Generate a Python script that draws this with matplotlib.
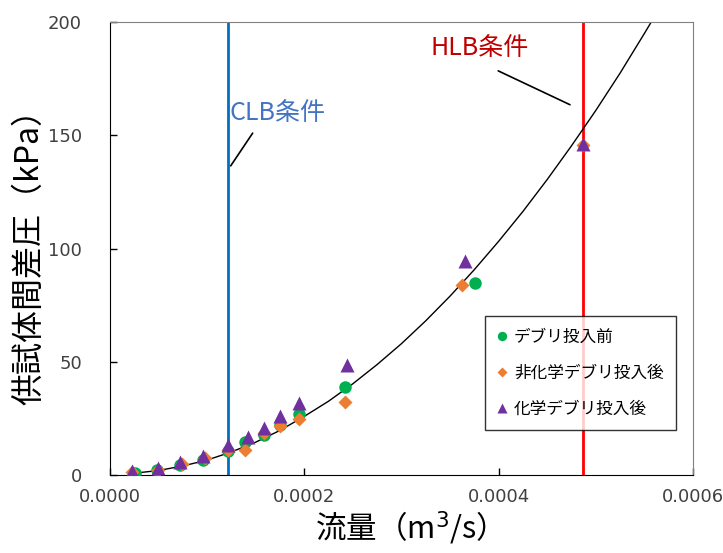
import matplotlib.pyplot as plt

plt.rcParams['font.family'] = ['Noto Sans CJK JP', 'DejaVu Sans']

# measured points
before_x = [0.0000258, 0.0000485, 0.0000722, 0.0000959, 0.0001216, 0.0001392,
            0.0001588, 0.0001753, 0.0001948, 0.0002423, 0.0003753]
before_y = [1.0, 2.2, 4.4, 6.6, 10.6, 14.6, 17.7, 22.0, 26.8, 38.8, 84.8]

nonchem_x = [0.0000227, 0.0000495, 0.0000742, 0.0000979, 0.0001216, 0.0001392,
             0.0001588, 0.0001753, 0.0001948, 0.0002423, 0.0003619, 0.0004866]
nonchem_y = [1.3, 2.2, 4.9, 7.5, 11.0, 11.0, 18.5, 21.6, 24.7, 32.2, 83.9, 145.6]

chem_x = [0.0000227, 0.0000495, 0.0000722, 0.0000959, 0.0001216, 0.0001423,
          0.0001588, 0.0001753, 0.0001948, 0.0002443, 0.0003649, 0.0004866]
chem_y = [1.7, 3.0, 5.7, 8.4, 13.2, 16.8, 20.7, 26.0, 31.8, 48.5, 94.5, 146.0]

# fitted curve
fit_x = [0.000025, 0.00005, 0.000075, 0.0001, 0.000125, 0.00015, 0.000175,
         0.0002, 0.000225, 0.00025, 0.000275, 0.0003, 0.000325, 0.00035,
         0.000375, 0.0004, 0.000425, 0.00045, 0.000475, 0.0005, 0.000525,
         0.00055, 0.000575]
fit_y = [0.8, 2.0, 4.0, 6.6, 10.2, 14.5, 19.7, 25.9, 32.6, 40.3, 48.8, 58.0,
         68.1, 79.0, 90.7, 103.2, 116.4, 130.5, 145.4, 161.0, 177.5, 195.0, 213.0]

clb_x = 0.0001216
hlb_x = 0.0004866

fig = plt.figure(figsize=(7.23, 5.53), dpi=100)
ax = fig.add_axes([0.152, 0.141, 0.8065, 0.819])

ax.axvline(clb_x, color='#0070C0', lw=2, zorder=1)
ax.axvline(hlb_x, color='#FF0000', lw=2, zorder=1)
ax.plot(fit_x, fit_y, color='black', lw=1, zorder=2)

ax.plot(before_x, before_y, 'o', color='#00B050', ms=9, mec='none', label='デブリ投入前', zorder=3)
ax.plot(nonchem_x, nonchem_y, 'D', color='#ED7D31', ms=7, mec='none', label='非化学デブリ投入後', zorder=4)
ax.plot(chem_x, chem_y, '^', color='#7030A0', ms=9.5, mec='none', label='化学デブリ投入後', zorder=5)

ax.set_xlim(0, 0.0006)
ax.set_ylim(0, 200)
ax.set_xticks([0, 0.0002, 0.0004, 0.0006])
ax.set_xticklabels(['0.0000', '0.0002', '0.0004', '0.0006'])
ax.set_yticks([0, 50, 100, 150, 200])
ax.tick_params(direction='in', length=5, width=1, labelsize=13, labelcolor='#404040',
               labelfontfamily='DejaVu Sans')
ax.tick_params(axis='y', pad=20)
ax.tick_params(axis='x', pad=9)

for s in ['left', 'bottom']:
    ax.spines[s].set_color('black')
for s in ['top', 'right']:
    ax.spines[s].set_color('#808080')

ax.set_xlabel('流量（m$^3$/s）', fontsize=22, labelpad=3)
ax.set_ylabel('供試体間差圧（kPa）', fontsize=23, labelpad=2)

# condition labels with leader lines
ax.text(0.000123, 160, 'CLB条件', color='#4472C4', fontsize=18, va='center', ha='left')
ax.annotate('', xy=(0.0001227, 135.5), xytext=(0.0001485, 152),
            arrowprops=dict(arrowstyle='-', color='black', lw=1.2))
ax.text(0.000330, 188.5, 'HLB条件', color='#C00000', fontsize=18, va='center', ha='left')
ax.annotate('', xy=(0.000476, 163), xytext=(0.000397, 179),
            arrowprops=dict(arrowstyle='-', color='black', lw=1.2))

leg = ax.legend(loc='lower right', bbox_to_anchor=(0.9855, 0.08), fontsize=12,
                frameon=True, fancybox=False, edgecolor='black', handlelength=0.6,
                handletextpad=0.4, labelspacing=1.15, borderpad=0.75,
                markerscale=0.75)
leg.get_frame().set_linewidth(1)

fig.savefig('out.png', dpi=100)
